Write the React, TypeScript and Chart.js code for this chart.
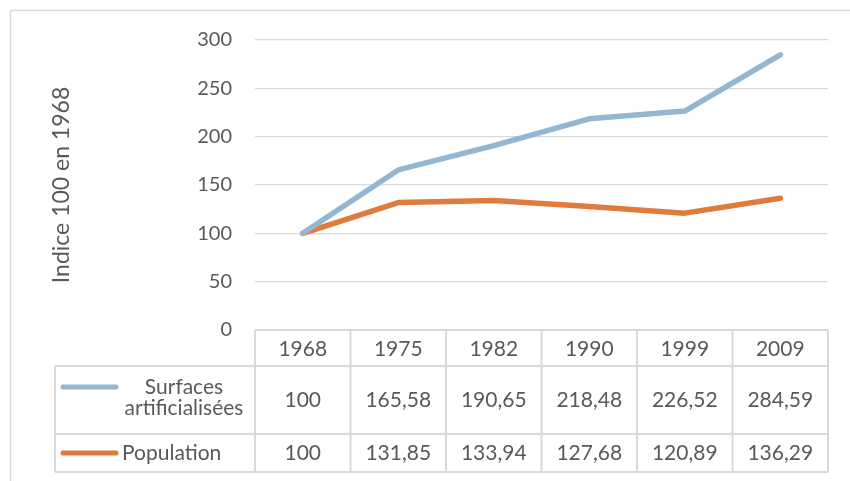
import React, { useEffect, useRef } from "react";
import { Chart, registerables } from "chart.js";

Chart.register(...registerables);

const years = ["1968", "1975", "1982", "1990", "1999", "2009"];
const surfaces = [100, 165.58, 190.65, 218.48, 226.52, 284.59];
const population = [100, 131.85, 133.94, 127.68, 120.89, 136.29];
const yTicks = [0, 50, 100, 150, 200, 250, 300];

const FONT = "Lato, 'Open Sans', sans-serif";
const TEXT = "#595959";
const GRID = "#d9d9d9";
const BLUE = "#94b6d2";
const ORANGE = "#e07b3c";

const fmt = (v: number) =>
  Number.isInteger(v) ? String(v) : v.toFixed(2).replace(".", ",");

// Frame around the chart plus the data table under the plot area
const tablePlugin = {
  id: "dataTable",
  beforeDraw(chart: any) {
    const { ctx, width, height } = chart;
    ctx.save();
    ctx.fillStyle = "#ffffff";
    ctx.fillRect(0, 0, width, height);
    ctx.strokeStyle = GRID;
    ctx.lineWidth = 1.5;
    ctx.strokeRect(10.5, 10.5, width + 20, height + 20);
    ctx.restore();
  },
  afterDraw(chart: any) {
    const { ctx, chartArea } = chart;
    const x = chart.scales.x;
    const left = chartArea.left;
    const right = chartArea.right;
    const colW = (right - left) / years.length;
    const top = chartArea.bottom;
    const headBottom = top + 36;
    const row1Bottom = headBottom + 68;
    const row2Bottom = row1Bottom + 38;
    const tableLeft = 55;

    ctx.save();
    ctx.strokeStyle = GRID;
    ctx.lineWidth = 2;
    // horizontal lines
    ctx.beginPath();
    ctx.moveTo(left, top);
    ctx.lineTo(right, top);
    ctx.moveTo(tableLeft, headBottom);
    ctx.lineTo(right, headBottom);
    ctx.moveTo(tableLeft, row1Bottom);
    ctx.lineTo(right, row1Bottom);
    ctx.moveTo(tableLeft, row2Bottom);
    ctx.lineTo(right, row2Bottom);
    // vertical lines
    ctx.moveTo(tableLeft, headBottom);
    ctx.lineTo(tableLeft, row2Bottom);
    for (let i = 0; i <= years.length; i++) {
      const cx = left + i * colW;
      ctx.moveTo(cx, top);
      ctx.lineTo(cx, row2Bottom);
    }
    ctx.stroke();

    ctx.fillStyle = TEXT;
    ctx.font = `21px ${FONT}`;
    ctx.textAlign = "center";
    ctx.textBaseline = "middle";
    const r1 = (headBottom + row1Bottom) / 2;
    const r2 = (row1Bottom + row2Bottom) / 2;
    years.forEach((yr, i) => {
      const cx = x.getPixelForValue(i);
      ctx.fillText(yr, cx, (top + headBottom) / 2 + 1);
      ctx.fillText(fmt(surfaces[i]), cx, r1);
      ctx.fillText(fmt(population[i]), cx, r2);
    });

    // legend keys
    ctx.lineCap = "round";
    ctx.lineWidth = 5;
    ctx.strokeStyle = BLUE;
    ctx.beginPath();
    ctx.moveTo(63, r1 - 13);
    ctx.lineTo(116, r1 - 13);
    ctx.stroke();
    ctx.strokeStyle = ORANGE;
    ctx.beginPath();
    ctx.moveTo(63, r2);
    ctx.lineTo(116, r2);
    ctx.stroke();

    ctx.fillText("Surfaces", 184, r1 - 13);
    ctx.fillText("artificialisées", 184, r1 + 8);
    ctx.textAlign = "left";
    ctx.fillText("Population", 122, r2);
    ctx.restore();
  },
};

export default function App() {
  const ref = useRef<HTMLCanvasElement>(null);

  useEffect(() => {
    if (!ref.current) return;
    const chart = new Chart(ref.current, {
      type: "line",
      data: {
        labels: years,
        datasets: [
          {
            label: "Surfaces artificialisées",
            data: surfaces,
            borderColor: BLUE,
            backgroundColor: BLUE,
            borderWidth: 5.5,
            pointRadius: 0,
            tension: 0,
            borderCapStyle: "round",
            borderJoinStyle: "round",
          },
          {
            label: "Population",
            data: population,
            borderColor: ORANGE,
            backgroundColor: ORANGE,
            borderWidth: 5.5,
            pointRadius: 0,
            tension: 0,
            borderCapStyle: "round",
            borderJoinStyle: "round",
          },
        ],
      },
      options: {
        responsive: false,
        animation: false,
        layout: { padding: { left: 44, top: 40, right: 22, bottom: 151 } },
        plugins: {
          legend: { display: false },
          tooltip: { enabled: false },
        },
        scales: {
          x: {
            type: "category",
            display: false,
            offset: true,
          },
          y: {
            min: 0,
            max: 300,
            afterBuildTicks: (scale: any) => {
              scale.ticks = yTicks.map((v) => ({ value: v }));
            },
            afterFit: (scale: any) => {
              scale.width = 211;
            },
            ticks: {
              color: TEXT,
              font: { family: FONT, size: 20 },
              padding: 23,
            },
            grid: { color: GRID, lineWidth: 1.2, drawTicks: false },
            border: { display: false },
            title: {
              display: true,
              text: "Indice 100 en 1968",
              color: TEXT,
              font: { family: FONT, size: 23 },
              padding: { top: 4, bottom: 4 },
            },
          },
        },
      },
      plugins: [tablePlugin],
    });
    return () => chart.destroy();
  }, []);

  return (
    <div style={{ position: "absolute", left: 0, top: 0, width: 850, height: 481 }}>
      <canvas ref={ref} width={850} height={481} />
    </div>
  );
}
